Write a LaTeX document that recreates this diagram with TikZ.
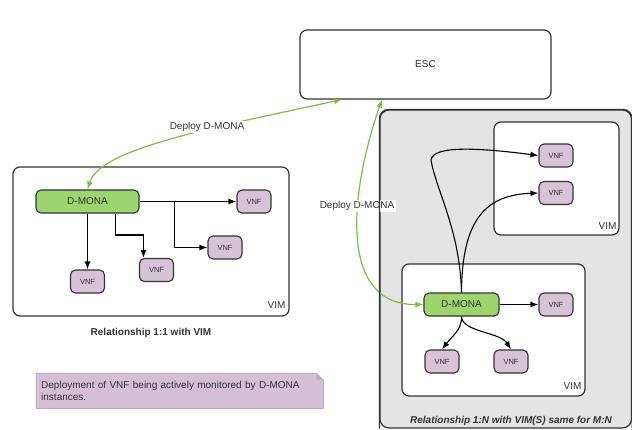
\documentclass[tikz,border=0pt]{standalone}
\usepackage{fontspec}
\setmainfont{Liberation Sans}
\usetikzlibrary{arrows.meta,backgrounds,calc}
\definecolor{dmgreen}{HTML}{9CD46E}
\definecolor{vnfpurple}{HTML}{D6C3D6}
\definecolor{notepurple}{HTML}{D4BFD4}
\definecolor{grayfill}{HTML}{E4E4E4}
\definecolor{arrowgreen}{HTML}{7DBE46}
\definecolor{linegray}{HTML}{333333}
\begin{document}
\begin{tikzpicture}[x=1pt,y=-1pt,
  container/.style={draw=linegray, line width=1.2pt, rounded corners=7pt, fill=white, inner sep=0pt},
  dmona/.style={draw=linegray, line width=1.1pt, fill=dmgreen, rounded corners=5pt, minimum height=23pt, inner sep=0pt, text=linegray, font=\fontsize{10}{12}\selectfont},
  vnfbox/.style={draw=linegray, line width=1.1pt, fill=vnfpurple, rounded corners=5pt, minimum width=34pt, minimum height=23pt, inner sep=0pt, text=linegray, font=\fontsize{7.5}{9}\selectfont},
  arr/.style={-{Latex[length=8pt,width=6pt]}, line width=1.1pt, draw=black},
  garr/.style={{Latex[length=8pt,width=6pt]}-{Latex[length=8pt,width=6pt]}, line width=1.2pt, draw=arrowgreen},
  lbl/.style={font=\fontsize{10}{12}\selectfont, text=linegray, inner sep=0pt},
  deploy/.style={lbl, fill=white, inner sep=1.5pt},
  title/.style={font=\fontsize{10}{12}\selectfont\bfseries, text=linegray, inner sep=0pt}
]
\useasboundingbox (0,0) rectangle (632,429);

% containers
\node[container, minimum width=251pt, minimum height=69pt, font=\fontsize{10}{12}\selectfont, text=linegray] (esc) at (425.5,64.5) {ESC};
\node[container, minimum width=276pt, minimum height=149pt] (vimL) at (151,241.5) {};
\node[draw=linegray, fill=grayfill, line width=1.2pt, rounded corners=9pt, minimum width=251.5pt, minimum height=318pt, inner sep=0pt] (grp) at (505.75,269) {};
\node[container, minimum width=125pt, minimum height=113pt] (vimTR) at (556.5,178.5) {};
\node[container, minimum width=183pt, minimum height=132pt] (vimB) at (493.5,330) {};

\node[lbl] (vimLt) at (276.5,305.5) {VIM};
\node[lbl] (vimTRt) at (607.5,226) {VIM};
\node[lbl] (vimBt) at (572.5,386) {VIM};

% nodes
\node[dmona, minimum width=103pt] (dmL) at (87.5,201.5) {D-MONA};
\node[dmona, minimum width=75pt] (dmR) at (461.5,304.5) {D-MONA};

\node[vnfbox] (v1) at (254,201.5) {VNF};
\node[vnfbox] (v2) at (225,247.5) {VNF};
\node[vnfbox] (v3) at (156.5,270) {VNF};
\node[vnfbox] (v4) at (87.5,281.5) {VNF};

\node[vnfbox] (vt1) at (556,155.5) {VNF};
\node[vnfbox] (vt2) at (556,193) {VNF};
\node[vnfbox] (vr) at (556,304.5) {VNF};
\node[vnfbox] (vbl) at (442,361.5) {VNF};
\node[vnfbox] (vbr) at (511,361.5) {VNF};

% green deploy arrows
\coordinate (e1) at ($(esc.south)+(-83.5,0)$);
\coordinate (e2) at ($(esc.south)+(-43.5,0)$);
\draw[garr] (e1) .. controls (200,130) and (100,150) .. (dmL.north);
\draw[garr] (e2) .. controls (352,185) and (335,305) .. (dmR.west);
\node[deploy] (dep1) at (207,127) {Deploy D-MONA};
\node[deploy] (dep2) at (357,206) {Deploy D-MONA};
\draw[line width=1.2pt, draw=linegray, rounded corners=9pt] (grp.south west) -- (grp.north west) -- (grp.north east) -- (grp.south east);

% left arrows
\coordinate (j1) at ($(dmL.east)+(34.5,0)$);
\draw[arr] (dmL.east) -- (v1.west);
\draw[arr] (j1) |- (v2.west);
\coordinate (j2) at ($(dmL.south)+(28,0)$);
\coordinate (j3) at ($(v3.north)+(-13,0)$);
\draw[arr] (j2) |- ($(j3)+(0,-23)$) -- (j3);
\draw[arr] (dmL.south) -- (v4.north);

% right arrows
\draw[arr] (dmR.east) -- (vr.west);
\draw[arr] (dmR.north) .. controls (460,230) and (436,190) .. (431,160) .. controls (433,145) and (480,148) .. (vt1.west);
\draw[arr] (dmR.north) .. controls (462,220) and (485,195) .. (vt2.west);
\draw[arr] (dmR.south) .. controls (462,330) and (452,336) .. (vbl.north);
\draw[arr] (dmR.south) .. controls (462,332) and (500,332) .. (vbr.north);

% titles
\node[title] (t1) at (151,333) {Relationship 1:1 with VIM};
\node[title, font=\fontsize{10}{12}\selectfont\bfseries\itshape] (t2) at (511,421) {Relationship 1:N with VIM(S) same for M:N};

% note
\node[anchor=north west, minimum width=287pt, minimum height=35pt, inner xsep=5pt, inner ysep=0pt, align=left, text width=277pt, font=\fontsize{10}{11.5}\selectfont, text=linegray] (note) at (36,373) {Deployment of VNF being actively monitored by D-MONA\\instances.};
\begin{scope}[on background layer]
\draw[fill=notepurple, draw=notepurple!75!black, line width=0.5pt] (note.north west) -- ($(note.north east)+(-7,0)$) -- ($(note.north east)+(0,7)$) -- (note.south east) -- (note.south west) -- cycle;
\fill[notepurple!75!gray] ($(note.north east)+(-7,0)$) -- ($(note.north east)+(-7,7)$) -- ($(note.north east)+(0,7)$) -- cycle;
\end{scope}
\end{tikzpicture}
\end{document}
